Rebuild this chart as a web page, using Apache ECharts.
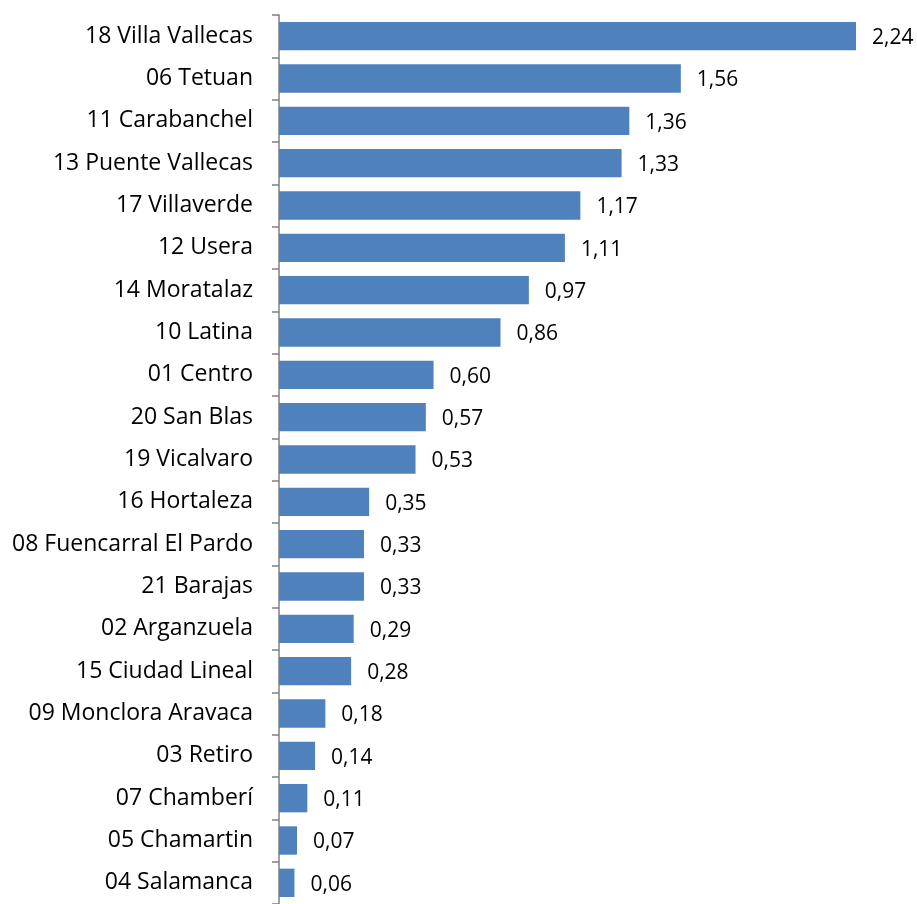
<!DOCTYPE html>
<html><head><meta charset="utf-8">
<script src="https://cdn.jsdelivr.net/npm/echarts@6/dist/echarts.min.js"></script>
<style>html,body{margin:0;padding:0;background:#fff}#c{width:917px;height:904px}</style>
</head><body><div id="c"></div>
<script>
const categories = ["18 Villa Vallecas","06 Tetuan","11 Carabanchel","13 Puente Vallecas","17 Villaverde","12 Usera","14 Moratalaz","10 Latina","01 Centro","20 San Blas","19 Vicalvaro","16 Hortaleza","08 Fuencarral El Pardo","21 Barajas","02 Arganzuela","15 Ciudad Lineal","09 Monclora Aravaca","03 Retiro","07 Chamberí","05 Chamartin","04 Salamanca"];
const values = [2.24,1.56,1.36,1.33,1.17,1.11,0.97,0.86,0.60,0.57,0.53,0.35,0.33,0.33,0.29,0.28,0.18,0.14,0.11,0.07,0.06];
const chart = echarts.init(document.getElementById('c'));
const font = "'Open Sans', sans-serif";
chart.setOption({
  animation:false,
  grid:{left:279,right:61,top:15,bottom:-3.5,containLabel:false},
  xAxis:{type:'value',min:0,max:2.24,show:false},
  yAxis:{type:'category',data:categories,inverse:true,
    axisLine:{show:true,lineStyle:{color:'#808080',width:1.5}},
    axisTick:{show:true,length:7,lineStyle:{color:'#808080',width:1.5}},
    axisLabel:{margin:26,color:'#000',fontSize:23,fontFamily:font}},
  series:[{type:'bar',data:values,barCategoryGap:'33%',
    itemStyle:{color:'#4F81BD'},
    label:{show:true,position:'right',distance:16,color:'#000',fontSize:21,fontFamily:font,offset:[0,2],
      formatter:p=>p.value.toFixed(2).replace('.',',')}}]
});
</script></body></html>
